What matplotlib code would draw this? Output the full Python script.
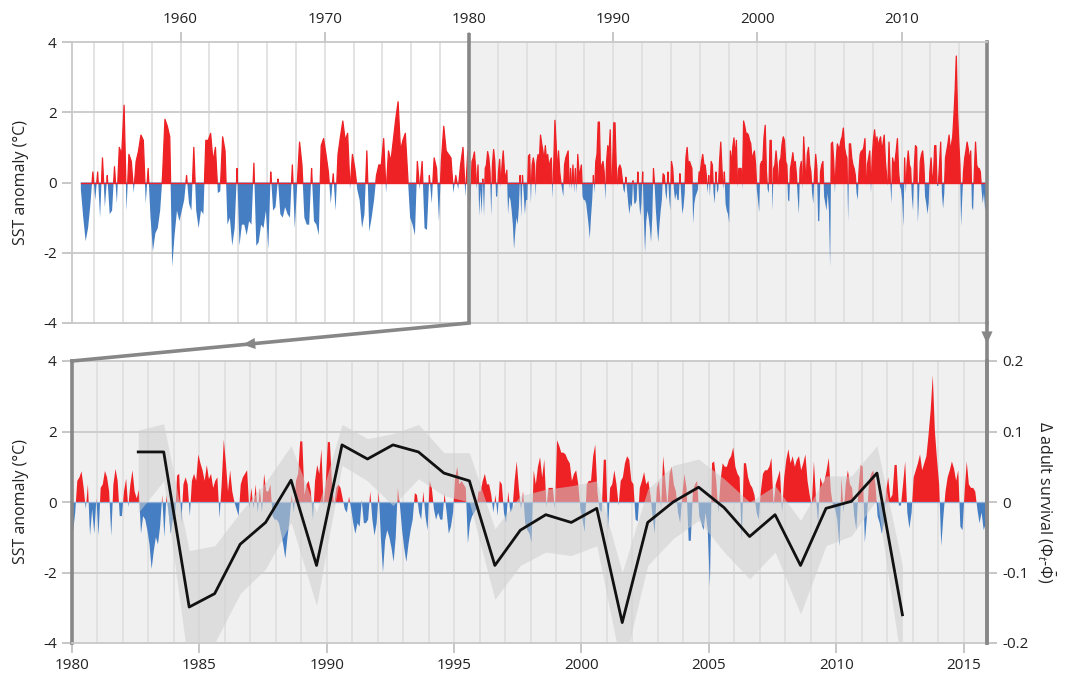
import numpy as np
import matplotlib.pyplot as plt
from matplotlib.lines import Line2D
from matplotlib.patches import FancyArrowPatch

plt.rcParams['font.family'] = ['Open Sans', 'DejaVu Sans']
plt.rcParams['mathtext.fontset'] = 'custom'
plt.rcParams['mathtext.rm'] = 'Open Sans'
plt.rcParams['mathtext.it'] = 'Open Sans:italic'

# SST anomaly (deg C), 1953-1979, one value every two months (top panel)
sst_early = [
    -0.2, -1.0, -1.67, -1.3, -0.6, 0.3, -0.5, 0.3, -1.0, 0.7,
    -0.7, 0.2, -0.9, -0.8, 0.45, -0.6, 1.0, 0.8, 2.2, -0.8,
    0.8, 0.6, -0.3, 0.6, 0.9, 1.35, 1.2, -0.6, 0.4, -1.0,
    -1.95, -1.45, -1.3, -0.8, 0.2, 1.8, 1.6, 1.3, -2.4, -1.5,
    -0.8, -1.1, -0.8, -0.5, 0.2, -0.6, -0.8, 1.0, -0.8, -1.3,
    -0.8, -0.9, 1.2, 1.2, 1.4, 0.6, 1.0, -0.3, -0.25, 1.3,
    0.9, -1.2, -1.0, -1.8, -1.3, 0.4, -1.8, -1.2, -1.2, -1.5,
    -1.1, -1.2, 0.55, -1.8, -1.7, -1.2, -1.3, -0.8, -1.9, 0.3,
    -0.8, -0.7, 0.1, -0.9, -1.0, -0.7, -0.9, -1.0, 0.5, -1.3,
    -0.1, 1.15, 0.5, -1.0, -1.2, -1.2, 0.4, -1.1, -1.2, -1.5,
    1.05, 1.25, 0.8, 0.3, -0.6, 0.25, -0.8, 0.8, 1.3, 1.75,
    1.2, 1.4, -0.2, 0.8, 0.4, -0.2, -0.5, -1.3, -0.9, 0.9,
    -1.4, -1.0, -0.5, 0.2, 0.5, 0.5, 1.25, -0.3, 0.9, 0.6,
    1.2, 1.8, 2.3, 0.9, 1.2, 1.4, 0.2, -1.0, -1.2, -1.5,
    0.6, -0.2, 0.6, -1.3, -1.35, 0.2, -0.6, 0.7, 0.4, -1.1,
    0.6, 1.6, 0.9, 0.8, 0.7, -0.3, 0.2, -0.2, 0.5, 1.0, -0.4, 0.9,
]

# SST anomaly, monthly from Jan 1980 (bottom panel)
sst_1980_1988 = [
    -0.85, -0.3, 0.6, 0.7, 0.87, 0.4, -0.2, 0.5, -0.95, -0.2, -0.9, 0.1,
    -0.96, 0.4, 0.5, 0.88, 0.7, 0.3, -0.96, 0.5, 0.94, 0.6, -0.4, -0.4,
    0.3, 0.66, -0.15, 0.5, 0.9, 0.3, 0.1, 0.35, -0.9, -0.4, -0.5, -0.8,
    -1.2, -1.9, -1.4, -1.0, -1.2, -0.7, 0.2, -1.0, 0.2, -0.3, -0.9, -0.5,
    -0.5, 0.75, 0.8, -0.6, 0.5, 0.7, 0.5, -0.4, 0.6, 0.8, 0.6, 1.35,
    1.1, 0.9, 0.6, 1.05, 0.65, 0.8, 0.4, 0.6, 0.7, -0.45, 0.5, 1.77,
    1.1, 0.3, 0.9, 0.3, 0.0, -0.2, -0.4, 0.5, 0.7, 0.8, 0.9, -0.2,
    0.4, -0.2, 0.5, -0.3, 0.4, -0.3, 0.8, 0.3, 0.3, 0.5, -0.4, -0.5,
    -0.5, -0.6, -0.9, -1.2, -1.6, -1.0, -0.5, 0.2, -0.3, 0.6, 0.8, 1.72,
]
sst_1989_1997 = [
    1.72, 0.2, 0.5, 0.6, 0.3, -0.5, 0.6, 1.05, 0.8, 1.5, -0.1, 0.5,
    1.7, 1.7, 0.5, -0.1, 0.4, 0.5, 0.4, 0.1, -0.2, -0.3, 0.15, -0.2,
    -0.6, -0.9, -0.6, -0.7, 0.05, -0.6, -0.6, -0.5, 0.3, -0.5, -0.95, -0.6,
    0.3, -1.0, -2.0, -1.1, -0.8, -1.0, -1.3, -1.7, -1.0, 0.4, -0.1, -0.8,
    -1.3, -1.7, -1.2, -0.8, -0.5, 0.25, 0.2, -0.3, -0.5, 0.3, -0.4, -0.8,
    0.6, 0.4, -0.2, -0.5, -0.3, -0.5, -0.5, 0.25, -0.3, -0.9, -0.7, -0.3,
    0.7, 1.0, 0.5, 0.6, 0.5, 0.4, -1.17, -0.6, -0.4, -0.3, -0.2, 0.3,
    0.3, 0.6, 0.8, 0.5, 0.5, 0.2, -0.3, 0.2, -0.4, 0.6, 0.5, -0.3,
    -0.6, 0.3, -0.3, -0.2, 0.6, 1.15, 0.4, -0.2, 0.3, -0.6, -0.8,
]
sst_1997_2006 = [
    -0.9, -1.15, 0.9, 0.5, 1.0, 1.27, 0.7, 1.2, -0.15, 0.4, 0.4, 0.4,
    -0.2, 1.75, 1.6, 1.4, 1.4, 1.35, 1.2, 1.1, 0.6, 0.8, 0.9, 0.5,
    -0.2, -0.5, -0.85, 0.5, 0.6, 0.6, 1.3, 1.63, 0.3, -0.2, -0.3, 1.2,
    1.2, -0.8, 0.4, 0.5, 0.9, 0.5, -0.1, 0.6, 0.7, 1.1, 1.3, 1.2,
    0.6, 0.5, -0.5, -0.55, 0.4, 0.6, 0.85, 0.5, 0.6, 0.2, -0.4, -0.9,
    0.4, 0.6, -0.2, 1.3, 0.6, -0.1, 0.8, 1.0, 0.5, 0.3, -0.3, -0.6,
    0.2, 0.8, 0.4, -1.1, -1.1, 0.3, 0.5, 0.6, -0.4, -0.6, -0.8, -0.3,
    -0.8, -2.4, 1.1, 1.15, 0.6, -0.3, 0.6, 1.1, 1.0, 1.0, 1.2, 1.3,
    1.55, 1.0, 0.8, 0.7, -1.1, 1.1, 1.1, 0.7, 0.5, 0.4, 0.2, -0.3,
]
sst_2006_2015 = [
    -0.5, 0.3, 0.8, 0.9, 0.9, 1.0, 1.25, -0.1, 0.5, 0.7, 0.9, -0.3,
    0.7, 1.2, 1.5, 1.1, 1.3, 1.0, 1.2, 1.3, 0.9, 1.1, 1.35, 0.6,
    0.2, -0.1, 1.15, 0.1, -0.6, 0.7, 0.5, 0.6, 0.9, 1.25, 0.3, -0.1,
    -0.2, -0.5, -1.25, 0.7, -0.3, 0.5, 0.9, 0.5, 0.4, -0.4, -0.8, 0.4,
    1.05, 1.0, -1.15, -0.4, 0.6, 0.8, 0.9, 0.5, -0.4, -0.6, -0.9, -0.6,
    0.3, 0.7, 0.1, 0.2, 1.05, 1.05, -0.1, -0.1, 0.5, 1.15, -0.3, -0.75,
    -0.3, 0.7, 0.9, 1.1, 1.35, 0.9, 1.1, 1.3, 1.9, 2.6, 3.6, 2.0,
    1.2, 0.5, -1.25, -0.4, 0.3, 0.7, 0.9, 1.15, 0.95, 0.6, 0.9, -0.7,
    -0.8, 0.3, 1.15, 0.5, 0.4, 0.4, 0.3, -0.2, -0.6, -0.3, -0.8, -0.6,
    0.05,
]

# adult survival deviation (right axis), one estimate per year
surv_year = [1982, 1983, 1984, 1985, 1986, 1987, 1988, 1989, 1990, 1991,
             1992, 1993, 1994, 1995, 1996, 1997, 1998, 1999, 2000, 2001,
             2002, 2003, 2004, 2005, 2006, 2007, 2008, 2009, 2010, 2011, 2012]
surv = [0.071, 0.071, -0.149, -0.13, -0.06, -0.029, 0.031, -0.09, 0.081, 0.061,
        0.081, 0.071, 0.041, 0.03, -0.09, -0.04, -0.018, -0.029, -0.009, -0.171,
        -0.029, 0.0, 0.021, -0.008, -0.049, -0.018, -0.09, -0.009, 0.001, 0.041, -0.16]
surv_hi = [0.102, 0.111, -0.069, -0.062, -0.015, 0.028, 0.08, -0.014, 0.11, 0.09,
           0.097, 0.11, 0.07, 0.07, -0.038, 0.009, 0.018, 0.023, 0.03, -0.10,
           0.018, 0.052, 0.061, 0.033, 0.0, 0.023, -0.026, 0.037, 0.037, 0.08, -0.09]
surv_lo = [-0.015, 0.03, -0.24, -0.2, -0.13, -0.095, -0.029, -0.147, 0.052, 0.03,
           -0.005, 0.033, 0.009, 0.0, -0.138, -0.09, -0.071, -0.076, -0.062, -0.24,
           -0.09, -0.052, -0.026, -0.071, -0.109, -0.071, -0.159, -0.062, -0.048, 0.004, -0.24]

RED = '#ee2125'
BLUE = '#457ec2'
DARK = '#878787'
GRID = '#cdcdcd'
VGRID = '#e0e0e0'
SHADE = '#f0f0f0'
TXT = '#222222'

sst_month = np.concatenate([sst_1980_1988, sst_1989_1997, sst_1997_2006, sst_2006_2015])
t_early = 1953 + (np.arange(len(sst_early)) + 0.5) / 6
t_month = 1980 + (np.arange(len(sst_month)) + 0.5) / 12
t = np.concatenate([t_early, t_month])
v = np.concatenate([sst_early, sst_month])
sy = np.array(surv_year) + 0.6

x_end = 2015.92
W, H = 1073, 675

fig = plt.figure(figsize=(W / 100, H / 100), dpi=100)
ax1 = fig.add_axes([72 / W, 1 - 323 / H, 915 / W, 281 / H])
ax2 = fig.add_axes([72 / W, 1 - 643 / H, 915 / W, 282 / H])


def sst_fill(ax, edge):
    ax.fill_between(t, 0, v, where=v >= 0, interpolate=True, color=RED,
                    lw=0.9 if edge else 0, edgecolor=RED, zorder=2)
    ax.fill_between(t, 0, v, where=v <= 0, interpolate=True, color=BLUE,
                    lw=0, zorder=2)


# ---- top panel: whole record
ax1.set_xlim(1952.47, x_end)
ax1.set_ylim(-4, 4)
ax1.axvspan(1980, x_end, color=SHADE, lw=0, zorder=0)
for yr in range(1954, 2016, 2):
    ax1.axvline(yr, color=VGRID, lw=1.3, zorder=0.5)
for yv in (-2, 2):
    ax1.axhline(yv, color=GRID, lw=1.4, zorder=0.6)
sst_fill(ax1, True)
ax1.plot([t[0], t[-1]], [0, 0], color=RED, lw=1.0, zorder=2.5)
ax1.plot([1980, 1980], [-4, 4.27], color=DARK, lw=2.6, clip_on=False,
         solid_capstyle='butt', zorder=5)

ax1.xaxis.tick_top()
ax1.set_xticks(range(1960, 2011, 10))
ax1.set_xticklabels([str(y) for y in range(1960, 2011, 10)])
ax1.set_yticks([-4, -2, 0, 2, 4])
ax1.set_yticklabels(['-4', '-2', '0', '2', '4'])
ax1.tick_params(axis='both', length=7, width=1.1, color='#b8b8b8',
                labelsize=11, labelcolor=TXT, pad=4)
ax1.set_ylabel('SST anomaly (°C)', fontsize=11.5, color=TXT, labelpad=10)
for s in ('top', 'bottom', 'left'):
    ax1.spines[s].set_color('#c8c8c8')
    ax1.spines[s].set_linewidth(1.3)
ax1.spines['right'].set_color(DARK)
ax1.spines['right'].set_linewidth(2.6)

# ---- bottom panel: 1980 onwards
ax2.set_facecolor(SHADE)
ax2.set_xlim(1980, x_end)
ax2.set_ylim(-4, 4)
for yr in range(1981, 2016):
    ax2.axvline(yr, color=VGRID, lw=1.3, zorder=0.5)
for yv in (-2, 2):
    ax2.axhline(yv, color=GRID, lw=1.4, zorder=0.6)
sst_fill(ax2, False)
ax2.axhline(0, color='#8eaed6', lw=0.9, zorder=2.5)

ax2.set_xticks(range(1980, 2016, 5))
ax2.set_xticklabels([str(y) for y in range(1980, 2016, 5)])
ax2.set_yticks([-4, -2, 0, 2, 4])
ax2.set_yticklabels(['-4', '-2', '0', '2', '4'])
ax2.tick_params(axis='both', length=7, width=1.1, color='#b8b8b8',
                labelsize=11, labelcolor=TXT, pad=4)
ax2.set_ylabel('SST anomaly (°C)', fontsize=11.5, color=TXT, labelpad=10)
for s in ('top', 'bottom'):
    ax2.spines[s].set_color('#c8c8c8')
    ax2.spines[s].set_linewidth(1.3)
for s in ('left', 'right'):
    ax2.spines[s].set_color(DARK)
    ax2.spines[s].set_linewidth(2.6)

ax3 = ax2.twinx()
ax3.set_ylim(-0.2, 0.2)
ax3.fill_between(sy, surv_lo, surv_hi, color='#cfcfcf', alpha=0.55, lw=0, zorder=3)
ax3.plot(sy, surv, color='#111111', lw=2.0, zorder=4)
ax3.set_yticks([-0.2, -0.1, 0, 0.1, 0.2])
ax3.set_yticklabels(['-0.2', '-0.1', '0', '0.1', '0.2'])
ax3.tick_params(axis='y', length=7, width=1.1, color='#b8b8b8',
                labelsize=11, labelcolor=TXT, pad=4)
ax3.set_ylabel(r'$\Delta$ adult survival ($\mathit{\Phi}_t$-$\bar{\mathit{\Phi}}$)',
               fontsize=11.5, color=TXT, rotation=270, labelpad=20)
for s in ('top', 'bottom', 'left'):
    ax3.spines[s].set_visible(False)
ax3.spines['right'].set_color(DARK)
ax3.spines['right'].set_linewidth(2.6)

# ---- zoom connectors with mid arrows
to_fig = fig.transFigure.inverted()


def connector(xa, xb, frac):
    a = to_fig.transform(ax1.transData.transform((xa, -4)))
    b = to_fig.transform(ax2.transData.transform((xb, 4)))
    m = a + frac * (b - a)
    fig.add_artist(Line2D([a[0], b[0]], [a[1], b[1]], transform=fig.transFigure,
                          color=DARK, lw=2.6, solid_capstyle='projecting'))
    fig.add_artist(FancyArrowPatch(a, m, transform=fig.transFigure,
                                   arrowstyle='-|>,head_length=0.9,head_width=0.4',
                                   mutation_scale=10, color=DARK, lw=0,
                                   shrinkA=0, shrinkB=0))


connector(1980, 1980, 0.57)
connector(x_end, x_end, 0.55)

fig.savefig('out.png', dpi=100)
